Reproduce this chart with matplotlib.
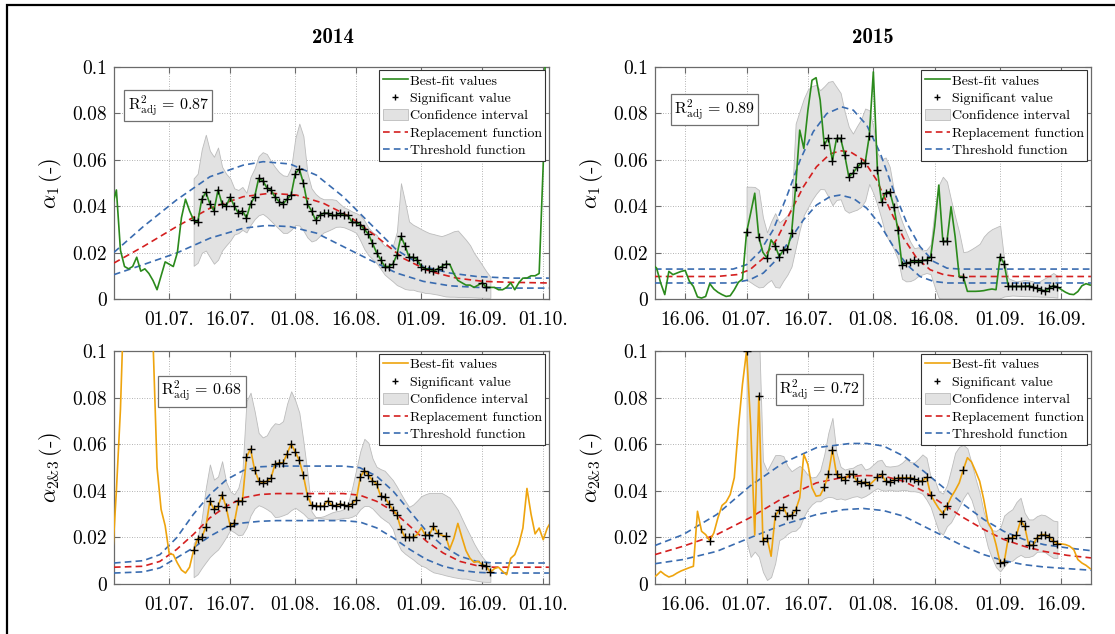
import numpy as np
import matplotlib
matplotlib.use("Agg")
import matplotlib.pyplot as plt
import matplotlib.dates as mdates
from matplotlib.lines import Line2D
from matplotlib.patches import Patch, Rectangle
from datetime import datetime

plt.rcParams['font.family'] = ['cmr10', 'DejaVu Serif']
plt.rcParams['mathtext.fontset'] = 'cm'
plt.rcParams['axes.formatter.use_mathtext'] = True
plt.rcParams['axes.unicode_minus'] = False

# ---------------- data: 2014, alpha_1 (days relative to 01.07.2014) ----------------
tl_days = list(range(-14, 94))
tl_vals = [0.040, 0.047, 0.021, 0.014, 0.013, 0.014, 0.018, 0.012, 0.013, 0.011,
           0.008, 0.004, 0.010, 0.016, 0.015, 0.014, 0.020, 0.035, 0.043, 0.038,
           0.034, 0.033, 0.043, 0.046, 0.041, 0.038, 0.047, 0.041, 0.040, 0.044,
           0.040, 0.037, 0.038, 0.035, 0.041, 0.044, 0.052, 0.051, 0.048, 0.047,
           0.044, 0.042, 0.041, 0.043, 0.045, 0.054, 0.056, 0.050, 0.041, 0.038,
           0.034, 0.036, 0.037, 0.037, 0.036, 0.036, 0.037, 0.036, 0.036, 0.033,
           0.033, 0.032, 0.030, 0.028, 0.024, 0.020, 0.017, 0.014, 0.014, 0.015,
           0.019, 0.027, 0.023, 0.018, 0.018, 0.017, 0.014, 0.013, 0.013, 0.012,
           0.013, 0.014, 0.015, 0.015, 0.011, 0.008, 0.007, 0.006, 0.006, 0.005,
           0.006, 0.007, 0.005, 0.005, 0.005, 0.004, 0.004, 0.005, 0.007, 0.004,
           0.007, 0.009, 0.009, 0.010, 0.010, 0.011, 0.058, 0.150]
tl_sig_days = list(range(6, 69)) + [77, 78]
tl_ci_days = list(range(6, 80))
tl_ci_hi = [.052, .054, .0645, .0708, .0639, .0613, .0653, .057, .054, .052,
            .0477, .047, .0483, .0458, .0527, .0563, .0616, .0633, .0625, .0595,
            .0569, .0547, .0533, .053, .0567, .0692, .0756, .0702, .0542, .0477,
            .0453, .0438, .043, .043, .043, .0427, .041, .0395, .0387, .0377,
            .037, .0361, .0338, .0308, .0288, .0277, .0248, .0229, .0226, .0229,
            .029, .0499, .042, .0334, .032, .0311, .0301, .0292, .0284, .028,
            .0275, .0271, .0277, .0284, .0292, .0295, .0275, .0255, .0232, .0198,
            .0173, .0146, .0119, .0096]
tl_ci_lo = [.0143, .0156, .0199, .0209, .018, .0152, .0169, .0209, .0231, .0251,
            .0278, .0284, .0298, .0287, .0319, .0344, .0361, .0367, .0354, .0337,
            .0319, .0302, .0285, .0285, .0298, .0319, .0317, .0295, .0265, .0248,
            .0254, .0271, .0287, .0294, .0302, .0311, .0312, .0309, .0302, .0294,
            .0285, .0252, .0215, .0189, .0172, .0155, .013, .0105, .009, .0076,
            .006, .0052, .0043, .004, .004, .0034, .0031, .0026, .0025, .0022,
            .0019, .0015, .0011, .0010, .0010, .0009, .0009, .0008, .0008, .0007,
            .0006, .0006, .0005, .0005]
tl_rep_days = [-13.6, -6.4, 1.8, 10, 18.2, 24.8, 31.3, 37.9, 44.4, 51, 57.5, 64.1, 70.7, 77.2, 83.8, 93.4]
tl_rep_vals = [0.0155, 0.0226, 0.0312, 0.0391, 0.0441, 0.0456, 0.0448, 0.0413, 0.0355, 0.0269,
               0.0176, 0.0119, 0.009, 0.0076, 0.0072, 0.0069]
tl_thu_days = [-13.6, -6.4, 1.8, 10, 18.2, 23.1, 29.7, 36.2, 42.8, 49.3, 55.9, 62.5, 69, 75.6, 83.8, 93.4]
tl_thu_vals = [0.0201, 0.0312, 0.0427, 0.0527, 0.0577, 0.0592, 0.0582, 0.0534, 0.0441, 0.0327,
               0.0212, 0.014, 0.0112, 0.0097, 0.009, 0.009]
tl_thl_days = [-13.6, -6.4, 1.8, 10, 18.2, 23.9, 29.7, 36.2, 42.8, 49.3, 55.9, 62.5, 69, 75.6, 83.8, 93.4]
tl_thl_vals = [0.0105, 0.0148, 0.0198, 0.0262, 0.0305, 0.0317, 0.0312, 0.0284, 0.0226, 0.0169,
               0.0112, 0.0076, 0.0057, 0.005, 0.0047, 0.0047]

# ---------------- data: 2015, alpha_1 (days relative to 01.07.2015) ----------------
tr_days = list(range(-23, 86))
tr_vals = [.015, .0133, .0069, .0019, .0119, .0105, .0112, .0119, .0123, .0077,
           .0054, .0009, .0004, .0011, .0066, .0043, .0029, .0019, .0011, .0014,
           .004, .0072, .0086,
           .0287, .037, .0456, .0266, .0201, .0176, .0255, .0229, .0183, .0212,
           .0216, .0284, .0484, .0728, .0649, .0814, .0943, .0954, .0857, .0663,
           .0696, .0596, .0692, .0692, .062, .0527, .0542, .0567, .0585, .0587,
           .0702, .0979, .0556, .042, .0458, .0463, .0398, .0298, .0148, .0155,
           .0158, .0166, .0158, .0166, .0169, .018, .0312, .0491, .0248, .0248,
           .0398, .0269, .0097, .0095, .0033, .0033, .0033, .0034, .0036, .004,
           .0043, .004, .0183, .0152, .0054, .0054, .0054, .0054, .0054, .0057,
           .0052, .0046, .004, .0033, .0047, .0057, .0052, .004, .0029, .0021,
           .0019, .0032, .0057, .0066, .006, .006]
tr_sig_days = ([0, 3, 5, 7, 8, 9, 10, 11, 12] + list(range(19, 31)) + list(range(32, 46))
               + [48, 49, 53] + list(range(62, 77)))
tr_ci_days = list(range(0, 77))
tr_ci_hi = [.0484, .0484, .0483, .047, .0352, .0287, .0334, .037, .033, .0344,
            .0361, .0398, .0756, .0811, .0864, .0903, .0918, .0923, .09, .0917,
            .0936, .094, .0914, .0888, .0807, .0742, .0713, .0745, .0774, .0821,
            .0814, .0742, .0628, .0602, .061, .057, .047, .0384, .0334, .0288,
            .0248, .0219, .0223, .0209, .0212, .0234, .0384, .0491, .0527, .0506,
            .0427, .0355, .0287, .0202, .0205, .0215, .0226, .0238, .0269, .0288,
            .0301, .0309, .0317, .0169, .009, .0082, .0076, .0079, .0082, .008,
            .0076, .0069, .008, .009, .01, .0112, .01]
tr_ci_lo = [.0083, .0072, .006, .005, .0052, .0069, .0082, .0052, .0049, .0079,
            .0105, .014, .0219, .0298, .0362, .0394, .0427, .0453, .0474, .0473,
            .0441, .0404, .0427, .043, .0384, .0372, .0379, .0385, .0397, .0424,
            .0496, .0456, .0405, .0344, .0277, .0248, .0216, .0172, .0087, .0076,
            .0077, .0085, .0099, .0106, .0112, .0107, .0052, .0004, .0003, .0003,
            .0003, .0003, .0003, .0003, .0003, .0003, .0003, .0003, .0003, .0003,
            .0003, .0003, .0003, .0011, .0013, .0015, .0014, .0013, .0012, .0012,
            .0011, .0011, .001, .001, .0009, .0008, .0006]
tr_rep_days = [-22.4, -7.3, -2.4, 0.8, 4.1, 7.3, 10.6, 13.9, 17.1, 20.4, 22.9, 25.3, 28.6,
               31.8, 35.1, 38.4, 41.6, 44.9, 48.2, 51.4, 84.2]
tr_rep_vals = [0.0097, 0.0097, 0.0105, 0.0126, 0.0176, 0.0255, 0.037, 0.0484, 0.057, 0.0625,
               0.0639, 0.0635, 0.0599, 0.0513, 0.0384, 0.0262, 0.0176, 0.0126, 0.0105, 0.0097, 0.0097]
tr_thu_days = [-22.4, -3.3, 0, 3.3, 6.5, 9.8, 13.1, 16.3, 19.6, 23.3, 26.1, 29.4, 32.7,
               35.9, 39.2, 42.4, 45.7, 49, 52.2, 84.2]
tr_thu_vals = [0.0129, 0.0129, 0.0148, 0.0205, 0.0298, 0.0441, 0.0599, 0.0721, 0.0799, 0.0828,
               0.0814, 0.0749, 0.0628, 0.047, 0.0327, 0.0226, 0.0162, 0.0133, 0.0129, 0.0129]
tr_thl_days = [-22.4, -3.3, 0.8, 4.1, 7.3, 10.6, 13.9, 17.1, 20.4, 22.9, 26.1, 29.4, 32.7,
               35.9, 39.2, 42.4, 45.7, 49, 84.2]
tr_thl_vals = [0.0069, 0.0069, 0.0083, 0.0112, 0.0169, 0.0255, 0.0341, 0.0405, 0.0441, 0.0448,
               0.0434, 0.0391, 0.0319, 0.0226, 0.0148, 0.0097, 0.0076, 0.0069, 0.0069]

# ---------------- data: 2014, alpha_2&3 ----------------
bl_days = list(range(-14, 95))
bl_vals = [.010, .040, .075, .13, .18, .2, .2, .19, .17, .15, .105, .050, .032, .025,
           .013, .0126, .009, .006, .0047, .0072, .0145, .0195, .020, .0245, .0355,
           .032, .0333, .0384, .033, .0248, .0262, .0355, .0358, .0544, .058, .049,
           .0444, .0433, .0441, .0453, .0513, .052, .052, .056, .0601, .0567, .053,
           .0466, .0378, .0338, .0334, .0334, .0334, .0358, .0338, .0334, .0344,
           .0338, .0334, .0345, .0362, .0458, .0487, .0467, .0444, .043, .0377,
           .0372, .0344, .0319, .0298, .0236, .020, .020, .020, .0212, .0241, .0209,
           .0212, .0248, .0219, .0209, .0205, .015, .0195, .026, .020, .0143, .011,
           .0093, .0097, .0083, .0076, .005, .0066, .0072, .0054, .004, .011, .0126,
           .017, .024, .041, .030, .0215, .024, .019, .024, .027]
bl_sig_days = list(range(6, 61)) + [63, 64, 65, 66, 68, 77, 78, 79]
bl_ci_days = list(range(6, 80))
bl_ci_hi = [.0175, .0201, .0281, .0413, .0513, .0448, .0461, .0527, .0438, .0398,
            .0385, .0413, .0484, .0785, .0821, .0742, .0648, .0629, .0638, .067,
            .069, .0686, .0699, .0774, .0827, .0788, .0735, .0613, .0477, .0312,
            .0287, .0287, .0291, .0299, .0307, .0312, .0315, .0322, .0347, .0413,
            .0491, .057, .0623, .0606, .0539, .0503, .0493, .0486, .0466, .0446,
            .0418, .0387, .0357, .0331, .0341, .0358, .0377, .0385, .0391, .0391,
            .0391, .0391, .0381, .037, .0344, .0318, .0281, .0244, .0209, .0173,
            .0143, .0117, .0095, .0083]
bl_ci_lo = [.0029, .0042, .0069, .0093, .0116, .0133, .0148, .0173, .0201, .0232,
            .0222, .0209, .0212, .0241, .0294, .0324, .0338, .0331, .0321, .0309,
            .0287, .0289, .0295, .0302, .0317, .0327, .0315, .0302, .0284, .0279,
            .0284, .0284, .0281, .0278, .0277, .0277, .0281, .0284, .0284, .0289,
            .0298, .0321, .0335, .0335, .0324, .0305, .0287, .0274, .0262, .0236,
            .0181, .0146, .013, .0117, .0105, .009, .0079, .0072, .006, .005,
            .0046, .0042, .0037, .0033, .0029, .0026, .0023, .0023, .0019, .0016,
            .0013, .001, .0009, .0009]
bl_rep_days = [-13.6, -6.4, -2.3, 1.8, 5.9, 10, 14.1, 18.2, 22.3, 26.4, 34.6, 42.8, 46.9, 51,
               55.1, 59.2, 63.3, 67.4, 71.5, 75.6, 79.7, 93.4]
bl_rep_vals = [0.0072, 0.0076, 0.0097, 0.0148, 0.0212, 0.0284, 0.0334, 0.037, 0.0384, 0.0388,
               0.0388, 0.0388, 0.0381, 0.0355, 0.0312, 0.0248, 0.0183, 0.0133, 0.0097, 0.0079,
               0.0072, 0.0072]
bl_thu_vals = [0.009, 0.01, 0.0126, 0.0198, 0.0298, 0.0384, 0.0448, 0.0487, 0.0503, 0.0506,
               0.0506, 0.0506, 0.0499, 0.0463, 0.0398, 0.0312, 0.0226, 0.0162, 0.0119, 0.0097,
               0.009, 0.009]
bl_thl_vals = [0.0047, 0.0052, 0.0069, 0.0112, 0.0155, 0.0205, 0.0244, 0.0262, 0.0269, 0.0272,
               0.0272, 0.0272, 0.0266, 0.0241, 0.0198, 0.0148, 0.0105, 0.0076, 0.0059, 0.005,
               0.0047, 0.0047]

# ---------------- data: 2015, alpha_2&3 ----------------
br_days = list(range(-23, 85))
br_vals = [.0026, .0037, .0054, .004, .003, .0036, .0047, .0056, .0063, .007, .0076,
           .0312, .0226, .0212, .0186, .0219, .0284, .0337, .0352, .0384, .0456, .067,
           .0857, .100, .068, .021, .0807, .0183, .0198, .0119, .0291, .0319, .033,
           .0291, .0295, .0317, .037, .0556, .0513, .0413, .0377, .038, .0415, .047,
           .0577, .047, .0458, .0448, .047, .047, .0441, .0434, .0438, .0424, .0441,
           .0458, .047, .0441, .0438, .0448, .0456, .0456, .0456, .0456, .0451, .0441,
           .0441, .0458, .0384, .0352, .0324, .0302, .0334, .0372, .0401, .0434, .0491,
           .0542, .0524, .0484, .0441, .0362, .0266, .0234, .0169, .009, .0095, .0198,
           .0198, .0209, .0272, .0248, .0166, .0166, .0198, .0212, .0212, .0202, .0183,
           .0173, .0172, .0169, .0162, .0148, .0105, .009, .008, .0066]
br_sig_days = ([-9, 0, 3, 4, 5] + list(range(7, 13)) + list(range(19, 31)) + list(range(32, 46))
               + [48, 49, 53] + list(range(62, 77)))
br_ci_days = list(range(0, 77))
br_ci_hi = [.13, .13, .13, .11, .0527, .0487, .052, .0553, .0554, .0549, .0507, .0484,
            .0496, .0507, .0491, .0467, .0457, .0461, .0487, .0556, .0649, .0713, .0563,
            .0503, .0491, .0496, .0499, .051, .0516, .0491, .0497, .0513, .0529, .0533,
            .0506, .0504, .0506, .0509, .052, .0537, .0523, .0521, .0537, .0556, .0542,
            .046, .0446, .0398, .0388, .0424, .0491, .0563, .0589, .0597, .0582, .052,
            .0451, .0391, .0308, .0255, .0231, .0228, .0239, .0294, .0309, .0321, .0352,
            .037, .0305, .0277, .0277, .0291, .0298, .0295, .0284, .0272, .0269]
br_ci_lo = [.0183, .0116, .0139, .0117, .0052, .0017, .003, .0089, .0188, .0198, .0215,
            .0226, .0229, .0246, .0289, .0321, .0342, .0355, .0355, .0368, .0374, .0372,
            .0364, .0367, .0362, .0368, .0374, .0377, .037, .0377, .0388, .0401, .0411,
            .0403, .04, .0405, .0401, .04, .0404, .0403, .0398, .0398, .0395, .0387,
            .0362, .0331, .0277, .0225, .0212, .0248, .0265, .0298, .0332, .0368, .0394,
            .0361, .0304, .0252, .0231, .0158, .0112, .0072, .0054, .0076, .0097, .01,
            .0115, .0125, .0115, .0116, .0122, .0138, .0139, .0136, .0123, .0112, .0112]
br_rep_days = [-22.4, -15.5, -7.3, 0.8, 9, 17.1, 23.7, 28.6, 33.5, 38.4, 43.3, 48.2, 53.1,
               58, 62.9, 67.8, 72.7, 78.4, 84.2]
br_rep_vals = [0.0126, 0.0162, 0.0212, 0.0284, 0.037, 0.0434, 0.0458, 0.0466, 0.0463, 0.0441,
               0.0398, 0.0341, 0.0284, 0.0234, 0.0191, 0.0162, 0.014, 0.0123, 0.0112]
br_thu_days = [-22.4, -15.5, -7.3, 0.8, 9, 17.1, 25.3, 29.4, 33.5, 38.4, 43.3, 48.2, 53.1,
               58, 62.9, 67.8, 72.7, 78.4, 84.2]
br_thu_vals = [0.0165, 0.0212, 0.0298, 0.042, 0.052, 0.0585, 0.0603, 0.0603, 0.0592, 0.0549,
               0.0484, 0.0413, 0.0341, 0.0277, 0.0226, 0.0191, 0.0169, 0.0155, 0.0143]
br_thl_vals = [0.0087, 0.0105, 0.014, 0.0198, 0.0255, 0.0298, 0.0319, 0.0324, 0.0315, 0.0291,
               0.0248, 0.0205, 0.0162, 0.0126, 0.01, 0.0083, 0.0073, 0.0066, 0.0059]

r2_texts = ['0.87', '0.89', '0.68', '0.72']
ytick_vals = [0, 0.02, 0.04, 0.06, 0.08, 0.1]
ytick_labels = ['0', '0.02', '0.04', '0.06', '0.08', '0.1']
ticks_2014 = [(2014, 7, 1), (2014, 7, 16), (2014, 8, 1), (2014, 8, 16), (2014, 9, 1), (2014, 9, 16), (2014, 10, 1)]
ticks_2015 = [(2015, 6, 16), (2015, 7, 1), (2015, 7, 16), (2015, 8, 1), (2015, 8, 16), (2015, 9, 1), (2015, 9, 16)]

GREEN = '#2b8a1c'
ORANGE = '#eea40e'
RED = '#d41f1f'
BLUE = '#3a6cb0'
FILL = '#e2e2e2'
FILL_EDGE = '#bcbcbc'

W, H = 1115, 634
fig = plt.figure(figsize=(W / 100, H / 100), dpi=100)
fig.patch.set_facecolor('white')


def panel(rect, base, days, vals, sig_days, ci_days, ci_lo, ci_hi,
          rep_d, rep_v, thu_d, thu_v, thl_d, thl_v, color, r2, r2pos, xlim, ticks, ylabel):
    ax = fig.add_axes(rect)
    b = mdates.date2num(base)
    x = b + np.asarray(days, float)
    v = np.asarray(vals)
    ax.fill_between(b + np.asarray(ci_days, float), ci_lo, ci_hi, facecolor=FILL,
                    edgecolor=FILL_EDGE, linewidth=0.6, zorder=1)
    ax.plot(b + np.asarray(thu_d), thu_v, color=BLUE, lw=1.2, dashes=(4, 2.5), zorder=3)
    ax.plot(b + np.asarray(thl_d), thl_v, color=BLUE, lw=1.2, dashes=(4, 2.5), zorder=3)
    ax.plot(b + np.asarray(rep_d), rep_v, color=RED, lw=1.2, dashes=(4, 2.5), zorder=3)
    ax.plot(x, v, color=color, lw=1.2, zorder=4)
    lookup = dict(zip(days, vals))
    sx = b + np.asarray(sig_days, float)
    sy = [lookup[d] for d in sig_days]
    ax.plot(sx, sy, ls='none', marker='+', ms=6, mew=1.0, color='black', zorder=5)
    ax.set_xlim(b + xlim[0], b + xlim[1])
    ax.set_ylim(0, 0.1)
    ax.set_yticks(ytick_vals)
    ax.set_yticklabels(ytick_labels)
    ax.set_xticks([mdates.date2num(datetime(*t)) for t in ticks])
    ax.xaxis.set_major_formatter(mdates.DateFormatter('%d.%m.'))
    ax.set_axisbelow(True)
    ax.grid(True, ls=(0, (1, 2)), color='#9a9a9a', lw=0.6)
    for s in ax.spines.values():
        s.set_color('#6a6a6a')
        s.set_linewidth(0.9)
    ax.tick_params(direction='in', length=4, color='#6a6a6a', top=True, right=True,
                   labelsize=14)
    ax.tick_params(axis='x', pad=9)
    ax.tick_params(axis='y', pad=5)
    ax.set_ylabel(ylabel, fontsize=16, labelpad=6)
    ax.text(r2pos[0], r2pos[1], r'$\mathrm{R}^2_{\mathrm{adj}}\,=\,%s$' % r2, transform=ax.transAxes,
            ha='center', va='center', fontsize=11.5, zorder=6,
            bbox=dict(boxstyle='square,pad=0.2', fc='white', ec='#707070', lw=0.9))
    handles = [Line2D([], [], color=color, lw=1.2),
               Line2D([], [], ls='none', marker='+', color='black', ms=5, mew=1.0),
               Patch(facecolor=FILL, edgecolor=FILL_EDGE, lw=0.6),
               Line2D([], [], color=RED, lw=1.2, dashes=(4, 2.5)),
               Line2D([], [], color=BLUE, lw=1.2, dashes=(4, 2.5))]
    labels = ['Best-fit values', 'Significant value', 'Confidence interval',
              'Replacement function', 'Threshold function']
    leg = ax.legend(handles, labels, loc='upper right', fontsize=10, fancybox=False,
                    framealpha=1, edgecolor='#333333', borderaxespad=0.25, borderpad=0.25,
                    labelspacing=0.28, handlelength=1.8, handletextpad=0.15, handleheight=0.9)
    leg.get_frame().set_linewidth(0.8)
    leg.set_zorder(7)
    return ax


panel([0.1022, 0.5284, 0.3901, 0.3659], datetime(2014, 7, 1), tl_days, tl_vals, tl_sig_days,
      tl_ci_days, tl_ci_lo, tl_ci_hi, tl_rep_days, tl_rep_vals, tl_thu_days, tl_thu_vals,
      tl_thl_days, tl_thl_vals, GREEN, r2_texts[0], (0.125, 0.834), (-13.6, 93.4), ticks_2014,
      r'$\alpha_1\,$(-)')
panel([0.5874, 0.5284, 0.3910, 0.3659], datetime(2015, 7, 1), tr_days, tr_vals, tr_sig_days,
      tr_ci_days, tr_ci_lo, tr_ci_hi, tr_rep_days, tr_rep_vals, tr_thu_days, tr_thu_vals,
      tr_thl_days, tr_thl_vals, GREEN, r2_texts[1], (0.1365, 0.815), (-22.4, 84.2), ticks_2015,
      r'$\alpha_1\,$(-)')
panel([0.1022, 0.0789, 0.3901, 0.3675], datetime(2014, 7, 1), bl_days, bl_vals, bl_sig_days,
      bl_ci_days, bl_ci_lo, bl_ci_hi, bl_rep_days, bl_rep_vals, bl_rep_days, bl_thu_vals,
      bl_rep_days, bl_thl_vals, ORANGE, r2_texts[2], (0.202, 0.828), (-13.6, 93.4), ticks_2014,
      r'$\alpha_{2&3}\,$(-)')
panel([0.5874, 0.0789, 0.3910, 0.3675], datetime(2015, 7, 1), br_days, br_vals, br_sig_days,
      br_ci_days, br_ci_lo, br_ci_hi, br_rep_days, br_rep_vals, br_thu_days, br_thu_vals,
      br_rep_days, br_thl_vals, ORANGE, r2_texts[3], (0.378, 0.833), (-22.4, 84.2), ticks_2015,
      r'$\alpha_{2&3}\,$(-)')

fig.text(0.2987, 0.941, '2014', fontfamily='cmb10', fontsize=15, ha='center', va='center')
fig.text(0.783, 0.941, '2015', fontfamily='cmb10', fontsize=15, ha='center', va='center')

fig.patches.append(Rectangle((7 / W, -0.1), 1.2, 1 - 5 / H + 0.1, transform=fig.transFigure,
                             fill=False, edgecolor='black', linewidth=1.6))

fig.savefig('out.png', dpi=100)
